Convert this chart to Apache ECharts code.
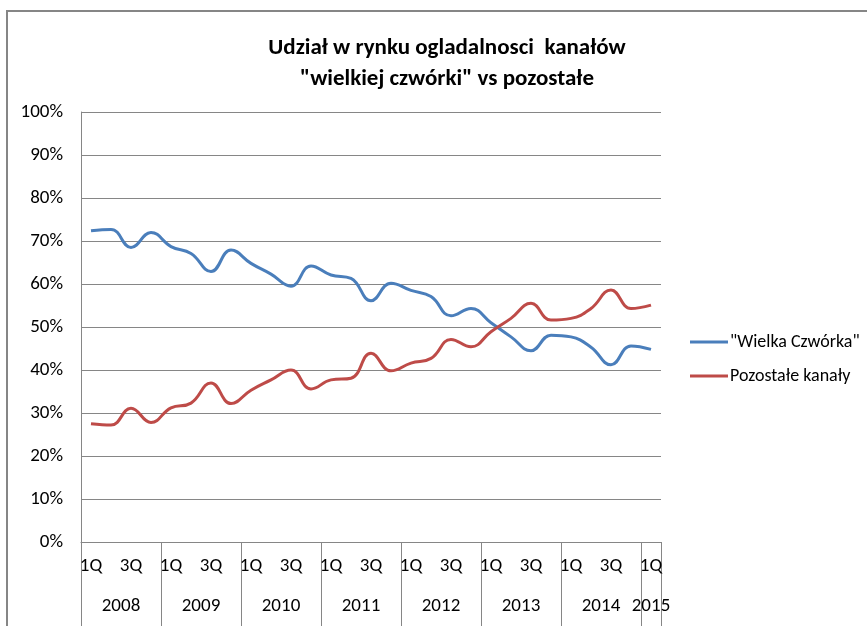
<!DOCTYPE html>
<html>
<head>
<meta charset="utf-8">
<style>
  html, body { margin: 0; padding: 0; background: #fff; }
  #chart { width: 867px; height: 626px; }
</style>
<script src="https://cdn.jsdelivr.net/npm/echarts@6/dist/echarts.min.js"></script>
</head>
<body>
<div id="chart"></div>
<script>
// lata i kwartały na osi X
var years = ['2008', '2009', '2010', '2011', '2012', '2013', '2014', '2015'];
var quarterNames = ['1Q', '2Q', '3Q', '4Q'];

// udział w rynku (%), 1Q 2008 .. 1Q 2015
var wielkaCzworka = [72.4, 72.7, 68.5, 72.0, 68.7, 67.1, 62.9, 67.9, 64.8, 62.3,
  59.5, 64.2, 62.1, 61.3, 56.1, 60.2, 58.5, 57.1, 52.6, 54.3,
  51.0, 47.7, 44.5, 48.1, 47.7, 45.3, 41.2, 45.6, 44.8];
var pozostale = [27.5, 27.2, 31.1, 27.8, 31.2, 32.3, 37.0, 32.2, 35.3, 37.7,
  40.0, 35.6, 37.7, 38.1, 43.9, 39.8, 41.6, 42.7, 47.1, 45.4,
  48.9, 52.0, 55.5, 51.6, 52.0, 54.3, 58.6, 54.3, 55.1];

var FONT = "Carlito, 'Liberation Sans Narrow', 'Open Sans', sans-serif";

// kategorie: kwartał + rok (ostatni rok ma tylko 1Q)
var quarters = [];
var quarterYears = [];
years.forEach(function (y, yi) {
  var n = yi === years.length - 1 ? 1 : quarterNames.length;
  for (var q = 0; q < n; q++) {
    quarters.push(quarterNames[q]);
    quarterYears.push(y);
  }
});
var last = quarters.length - 1;

var chart = echarts.init(document.getElementById('chart'));
chart.setOption({
  animation: false,
  textStyle: { fontFamily: FONT },
  title: {
    text: 'Udział w rynku ogladalnosci  kanałów\n"wielkiej czwórki" vs pozostałe',
    left: 442,
    top: 28,
    textAlign: 'center',
    textStyle: { fontFamily: FONT, fontSize: 23, fontWeight: 'bold', lineHeight: 31, color: '#000' }
  },
  graphic: [{
    type: 'rect',
    shape: { x: 7, y: 11, width: 900, height: 700 },
    style: { fill: 'none', stroke: '#868686', lineWidth: 2 },
    silent: true
  }],
  legend: {
    orient: 'vertical',
    left: 690,
    top: 333,
    padding: 0,
    icon: 'rect',
    itemWidth: 38,
    itemHeight: 3,
    itemGap: 16,
    textStyle: { fontFamily: FONT, fontSize: 18, color: '#000', padding: [0, 0, 0, -3] },
    data: ['"Wielka Czwórka"', 'Pozostałe kanały']
  },
  grid: { left: 81, right: 206, top: 112, bottom: 84 },
  xAxis: [{
    type: 'category',
    data: quarters,
    boundaryGap: true,
    axisLine: { lineStyle: { color: '#868686', width: 1 } },
    axisTick: {
      show: true,
      length: 84,
      interval: function (i) { return i % 4 === 0; },
      lineStyle: { color: '#868686' }
    },
    axisLabel: {
      interval: 1,
      margin: 15,
      fontFamily: FONT,
      fontSize: 19,
      color: '#000'
    }
  }, {
    type: 'category',
    data: quarterYears,
    boundaryGap: true,
    position: 'bottom',
    axisLine: { show: false },
    axisTick: { show: false },
    axisLabel: {
      interval: function (i) { return i % 4 === 1 || i === last; },
      margin: 55,
      formatter: function (v, i) {
        return i === last ? '{b|' + v + '}' : '{a|' + v + '}';
      },
      rich: {
        a: { fontFamily: FONT, fontSize: 19, color: '#000', padding: [0, 0, 0, 20] },
        b: { fontFamily: FONT, fontSize: 19, color: '#000' }
      }
    }
  }],
  yAxis: {
    type: 'value',
    min: 0,
    max: 100,
    interval: 10,
    axisLine: { show: true, lineStyle: { color: '#868686' } },
    axisTick: { show: false },
    splitLine: { lineStyle: { color: '#868686', width: 1 } },
    axisLabel: {
      formatter: '{value}%',
      margin: 18,
      fontFamily: FONT,
      fontSize: 19,
      color: '#000'
    }
  },
  series: [{
    name: '"Wielka Czwórka"',
    type: 'line',
    data: wielkaCzworka,
    smooth: 0.45,
    symbol: 'none',
    lineStyle: { color: '#4A7EBB', width: 3 },
    itemStyle: { color: '#4A7EBB' }
  }, {
    name: 'Pozostałe kanały',
    type: 'line',
    data: pozostale,
    smooth: 0.45,
    symbol: 'none',
    lineStyle: { color: '#BE4B48', width: 3 },
    itemStyle: { color: '#BE4B48' }
  }]
});
</script>
</body>
</html>
